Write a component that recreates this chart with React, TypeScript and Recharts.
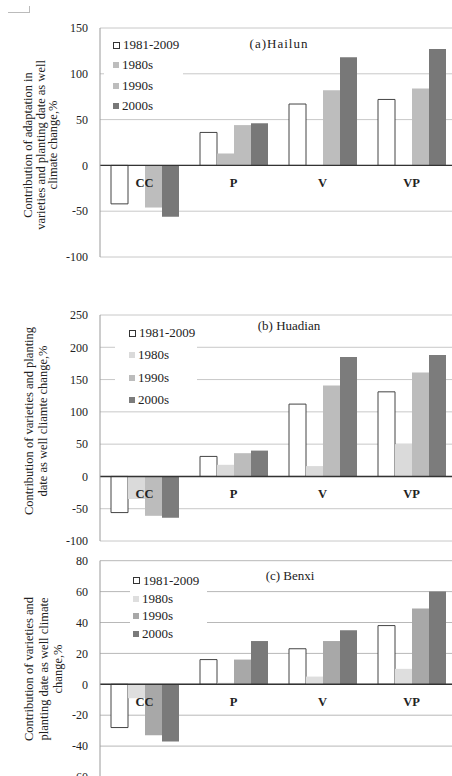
import React from "react";
import {
  BarChart,
  Bar,
  XAxis,
  YAxis,
  CartesianGrid,
  ReferenceLine,
  ReferenceDot,
  Legend,
} from "recharts";

const SERIF = "'Liberation Serif', serif";

const CATEGORIES = ["CC", "P", "V", "VP"];
const SERIES = ["1981-2009", "1980s", "1990s", "2000s"];

// (a) Hailun
const HAILUN_1981_2009 = [-42, 36, 67, 72];
const HAILUN_1980S = [0, 13, 0, 0];
const HAILUN_1990S = [-46, 44, 82, 84];
const HAILUN_2000S = [-56, 46, 118, 127];
const HAILUN_TICKS = [-100, -50, 0, 50, 100, 150];

// (b) Huadian
const HUADIAN_1981_2009 = [-56, 31, 112, 131];
const HUADIAN_1980S = [-35, 18, 16, 50];
const HUADIAN_1990S = [-61, 36, 141, 161];
const HUADIAN_2000S = [-64, 40, 185, 188];
const HUADIAN_TICKS = [-100, -50, 0, 50, 100, 150, 200, 250];

// (c) Benxi
const BENXI_1981_2009 = [-28, 16, 23, 38];
const BENXI_1980S = [-9, 1, 5, 10];
const BENXI_1990S = [-33, 16, 28, 49];
const BENXI_2000S = [-37, 28, 35, 60];
const BENXI_TICKS = [-60, -40, -20, 0, 20, 40, 60, 80];

type Row = { category: string; [k: string]: number | string };

function buildRows(series: number[][]): Row[] {
  return CATEGORIES.map((category, i) => {
    const row: Row = { category };
    SERIES.forEach((name, s) => {
      row[name] = series[s][i];
    });
    return row;
  });
}

type LegendBox = { left: number; top: number; width: number; rowHeight: number; padLeft: number };

function SeriesLegend({ payload, rowHeight, padLeft }: any) {
  // keep the series order, not the legend's default sort by value
  const items = [...(payload || [])].sort(
    (a: any, b: any) => SERIES.indexOf(a.value) - SERIES.indexOf(b.value)
  );
  return (
    <div style={{ paddingLeft: padLeft, fontFamily: SERIF, fontSize: 13, color: "#222" }}>
      {items.map((entry: any) => {
        const hollow = entry.color === "#ffffff";
        return (
          <div
            key={entry.value}
            style={{ height: rowHeight, display: "flex", alignItems: "center", whiteSpace: "nowrap" }}
          >
            <span
              style={{
                display: "inline-block",
                width: hollow ? 5 : 6,
                height: hollow ? 5 : 6,
                marginRight: 3,
                background: entry.color,
                border: hollow ? "1px solid #333" : "none",
              }}
            />
            {entry.value}
          </div>
        );
      })}
    </div>
  );
}

type PanelProps = {
  top: number;
  height: number;
  margin: { top: number; bottom: number };
  values: number[][];
  colors: string[];
  domain: [number, number];
  ticks: number[];
  gridColor: string;
  title: string;
  titleX: number;
  titleY: number;
  titleStyle?: React.CSSProperties;
  axisLines: string[];
  axisLineX: number[];
  axisLabelY: number;
  legend: LegendBox;
};

function Panel(p: PanelProps) {
  const rows = buildRows(p.values);
  return (
    <div style={{ position: "absolute", left: 0, top: p.top, width: 470, height: p.height }}>
      <BarChart
        width={470}
        height={p.height}
        data={rows}
        margin={{ top: p.margin.top, right: 14, bottom: p.margin.bottom, left: 0 }}
        barCategoryGap={11}
        barGap={0}
        style={{ fontFamily: SERIF }}
      >
        <CartesianGrid vertical={false} stroke={p.gridColor} strokeWidth={1} />
        <XAxis dataKey="category" hide />
        <YAxis
          domain={p.domain}
          ticks={p.ticks}
          interval={0}
          width={100}
          tickLine={false}
          tickSize={0}
          tickMargin={12}
          axisLine={{ stroke: "#9a9a9a" }}
          tick={{ fontSize: 12, fill: "#222", fontFamily: SERIF }}
          label={() => (
            <g>
              {p.axisLines.map((line, i) => (
                <text
                  key={line}
                  x={p.axisLineX[i]}
                  y={p.axisLabelY}
                  transform={`rotate(-90, ${p.axisLineX[i]}, ${p.axisLabelY})`}
                  textAnchor="middle"
                  dominantBaseline="central"
                  style={{ fontFamily: SERIF, fontSize: 12.5 }}
                  fill="#222"
                >
                  {line}
                </text>
              ))}
            </g>
          )}
        />
        {SERIES.map((name, s) => (
          <Bar
            key={name}
            dataKey={name}
            name={name}
            fill={p.colors[s]}
            stroke={s === 0 ? "#444" : "none"}
            strokeWidth={1}
            isAnimationActive={false}
          />
        ))}
        <ReferenceLine y={0} stroke="#333" strokeWidth={1.4} />
        {CATEGORIES.map((c) => (
          <ReferenceDot
            key={c}
            x={c}
            y={0}
            r={1}
            fill="none"
            stroke="none"
            label={{
              value: c,
              position: "bottom",
              offset: 12,
              fill: "#222",
              fontSize: 12.5,
              fontWeight: "bold",
              fontFamily: SERIF,
            }}
          />
        ))}
        <Legend
          layout="vertical"
          align="center"
          verticalAlign="middle"
          wrapperStyle={{
            left: p.legend.left,
            top: p.legend.top,
            width: p.legend.width,
            background: "#fff",
          }}
          content={(props: any) => (
            <SeriesLegend payload={props.payload} rowHeight={p.legend.rowHeight} padLeft={p.legend.padLeft} />
          )}
        />
        <text
          x={p.titleX}
          y={p.titleY}
          textAnchor="middle"
          dominantBaseline="central"
          fill="#222"
          style={{ fontFamily: SERIF, fontSize: 13, ...p.titleStyle }}
        >
          {p.title}
        </text>
      </BarChart>
    </div>
  );
}

export default function App() {
  return (
    <div
      style={{
        position: "absolute",
        left: 0,
        top: 0,
        width: 452,
        height: 776,
        overflow: "hidden",
        background: "#fff",
        fontFamily: SERIF,
      }}
    >
      <div
        style={{
          position: "absolute",
          left: 8,
          top: 6,
          width: 21,
          height: 6,
          borderRight: "1px solid #bbb",
          borderBottom: "1px solid #bbb",
        }}
      />
      <Panel
        top={0}
        height={270}
        margin={{ top: 28, bottom: 13 }}
        values={[HAILUN_1981_2009, HAILUN_1980S, HAILUN_1990S, HAILUN_2000S]}
        colors={["#ffffff", "#bdbdbd", "#bdbdbd", "#787878"]}
        domain={[-100, 150]}
        ticks={HAILUN_TICKS}
        gridColor="#c8c8c8"
        title="(a)Hailun"
        titleX={279}
        titleY={43}
        titleStyle={{ letterSpacing: 1 }}
        axisLines={[
          "Contribution of adaptation in",
          "varieties and planting date as well",
          "climate change,%",
        ]}
        axisLineX={[28, 40.5, 53]}
        axisLabelY={145}
        legend={{ left: 104, top: 35, width: 79, rowHeight: 20.3, padLeft: 9 }}
      />
      <Panel
        top={290}
        height={260}
        margin={{ top: 25, bottom: 9 }}
        values={[HUADIAN_1981_2009, HUADIAN_1980S, HUADIAN_1990S, HUADIAN_2000S]}
        colors={["#ffffff", "#dadada", "#bcbcbc", "#7c7c7c"]}
        domain={[-100, 250]}
        ticks={HUADIAN_TICKS}
        gridColor="#c8c8c8"
        title="(b) Huadian"
        titleX={289}
        titleY={35}
        axisLines={["Contribution of  varieties and planting", "date as well cliamte change,%"]}
        axisLineX={[29, 43]}
        axisLabelY={131}
        legend={{ left: 115, top: 32, width: 82, rowHeight: 22.3, padLeft: 14 }}
      />
      <Panel
        top={545}
        height={240}
        margin={{ top: 15.7, bottom: 8 }}
        values={[BENXI_1981_2009, BENXI_1980S, BENXI_1990S, BENXI_2000S]}
        colors={["#ffffff", "#dedede", "#a8a8a8", "#7a7a7a"]}
        domain={[-60, 80]}
        ticks={BENXI_TICKS}
        gridColor="#b8b8b8"
        title="(c) Benxi"
        titleX={290}
        titleY={30}
        axisLines={["Contribution of varieties and", "planting date as well climate", "change,%"]}
        axisLineX={[29, 44, 58]}
        axisLabelY={124}
        legend={{ left: 130, top: 27, width: 77, rowHeight: 17.7, padLeft: 3 }}
      />
    </div>
  );
}
